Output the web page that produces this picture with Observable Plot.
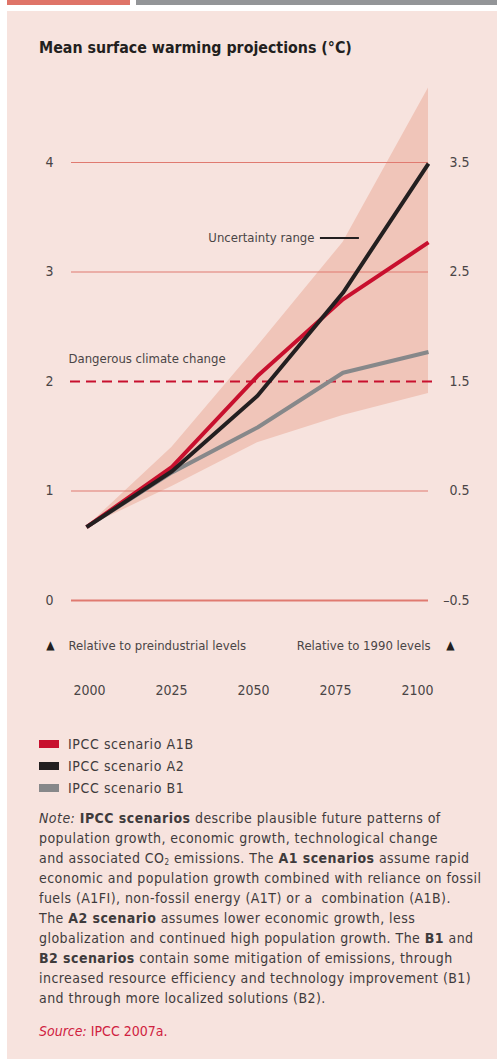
<!DOCTYPE html>
<html><head><meta charset="utf-8">
<script src="https://cdn.jsdelivr.net/npm/d3@7"></script>
<script src="https://cdn.jsdelivr.net/npm/@observablehq/plot@0.6"></script>
<style>
body{margin:0;background:#fff;width:497px;height:1059px;position:relative;overflow:hidden;font-family:"Liberation Sans Narrow","DejaVu Sans Condensed","Liberation Sans",sans-serif;color:#3f3b3c;}
.abs{position:absolute;}
#panel{left:7px;top:11px;width:490px;height:1048px;background:#f7e3de;}
#barR{left:7px;top:0;width:123px;height:5px;background:#df7468;}
#barG{left:136px;top:0;width:361px;height:5px;background:#939598;}
#title{left:39px;top:38px;font-weight:bold;font-size:15.8px;color:#231f20;white-space:nowrap;}
#legend{left:39px;top:733px;}
.lrow{height:22px;display:flex;align-items:center;font-size:14px;letter-spacing:0.6px;}
.sw{width:20px;height:8px;margin-right:9px;}
#note{left:39px;top:808px;font-size:14px;line-height:20px;letter-spacing:0.45px;white-space:nowrap;}
#source{left:39px;top:1021px;font-size:14px;line-height:20px;color:#d0213f;}
</style></head>
<body>
<div id="barR" class="abs"></div><div id="barG" class="abs"></div>
<div id="panel" class="abs"></div>
<div id="title" class="abs">Mean surface warming projections (°C)</div>
<div id="chart" class="abs" style="left:0;top:80px;"></div>
<div id="years" class="abs" style="left:0;top:675px;"></div>
<div id="legend" class="abs"></div>
<div id="note" class="abs"><i>Note:</i> <b>IPCC scenarios</b> describe plausible future patterns of<br>population growth, economic growth, technological change<br>and associated CO<sub style="font-size:8px;vertical-align:-2px;line-height:0">2</sub> emissions. The <b>A1 scenarios</b> assume rapid<br>economic and population growth combined with reliance on fossil<br>fuels (A1FI), non-fossil energy (A1T) or a&nbsp; combination (A1B).<br>The <b>A2 scenario</b> assumes lower economic growth, less<br>globalization and continued high population growth. The <b>B1</b> and<br><b>B2 scenarios</b> contain some mitigation of emissions, through<br>increased resource efficiency and technology improvement (B1)<br>and through more localized solutions (B2).</div>
<div id="source" class="abs"><i>Source:</i> IPCC 2007a.</div>
<script>
// ---- data ----
const years = [2000, 2025, 2050, 2075, 2100];
const a1b = [0.67, 1.22, 2.05, 2.75, 3.27];
const a2  = [0.67, 1.18, 1.87, 2.81, 3.99];
const b1  = [0.67, 1.17, 1.58, 2.08, 2.27];
const rangeLow  = [0.67, 1.04, 1.44, 1.69, 1.89];
const rangeHigh = [0.67, 1.40, 2.32, 3.27, 4.68];
const leftTicks = [0, 1, 2, 3, 4];
const rightTickLabels = ["\u20130.5", "0.5", "1.5", "2.5", "3.5"];
const scenarioNames = ["IPCC scenario A1B", "IPCC scenario A2", "IPCC scenario B1"];
const scenarioColors = ["#c8102e", "#231f20", "#87888a"];
const dangerLevel = 2;
const dangerLabel = "Dangerous climate change";
const uncertainty = {text: "Uncertainty range", x1: 2068.4, x2: 2079.8, y: 3.31};
const leftNote = "Relative to preindustrial levels";
const rightNote = "Relative to 1990 levels";

const series = [a1b, a2, b1];
const lineData = [];
[2, 0, 1].forEach(si => years.forEach((yr, i) => lineData.push({year: yr, v: series[si][i], s: scenarioNames[si]})));
const band = years.map((yr, i) => ({year: yr, lo: rangeLow[i], hi: rangeHigh[i]}));
const rightTicks = leftTicks.map((v, i) => ({v, label: rightTickLabels[i]}));

const FONT = '"Liberation Sans Narrow","DejaVu Sans Condensed","Liberation Sans",sans-serif';
const TXT = "#4a4546";
const GRID = "#e07a70";

const chart = Plot.plot({
  width: 497, height: 580,
  marginLeft: 71, marginRight: 69, marginTop: 0, marginBottom: 15,
  style: {background: "transparent", fontFamily: FONT, fontSize: "13px", color: TXT},
  x: {domain: [2000, 2100], range: [86, 428], axis: null},
  y: {domain: [0, 4], range: [520, 82], axis: null},
  color: {domain: scenarioNames, range: scenarioColors},
  marks: [
    Plot.areaY(band, {x: "year", y1: "lo", y2: "hi", fill: "#f0c5b9"}),
    Plot.ruleY(leftTicks.filter(d => d !== 0 && d !== dangerLevel), {stroke: GRID, strokeWidth: 1.2}),
    Plot.ruleY([0], {stroke: GRID, strokeWidth: 2}),
    Plot.ruleY([dangerLevel], {stroke: "#c8102e", strokeWidth: 2, strokeDasharray: "10,6", insetLeft: -1, insetRight: -8}),
    Plot.text(leftTicks, {y: d => d, text: d => String(d), frameAnchor: "left", textAnchor: "middle", dx: -22, fill: TXT, fontSize: 14}),
    Plot.text(rightTicks, {y: "v", text: "label", frameAnchor: "right", textAnchor: "end", dx: 41, fill: TXT, fontSize: 14}),
    Plot.line(lineData, {x: "year", y: "v", z: "s", stroke: "s", strokeWidth: 4, strokeLinecap: "butt", strokeLinejoin: "miter"}),
    Plot.text([dangerLabel], {y: dangerLevel, text: d => d, frameAnchor: "left", textAnchor: "start", dx: -3, dy: -23, fill: TXT}),
    Plot.text([uncertainty], {x: "x1", y: "y", text: "text", textAnchor: "end", dx: -6, fill: TXT}),
    Plot.ruleY([uncertainty], {x1: "x1", x2: "x2", y: "y", stroke: "#231f20", strokeWidth: 2}),
    Plot.text([leftNote], {text: d => d, frameAnchor: "bottom-left", textAnchor: "start", lineAnchor: "middle", dx: -3, fill: TXT}),
    Plot.text(["\u25B2"], {text: d => d, frameAnchor: "bottom-left", textAnchor: "middle", lineAnchor: "middle", dx: -21, fontSize: 12, fill: "#231f20"}),
    Plot.text([rightNote], {text: d => d, frameAnchor: "bottom-right", textAnchor: "end", lineAnchor: "middle", dx: 2, fill: TXT}),
    Plot.text(["\u25B2"], {text: d => d, frameAnchor: "bottom-right", textAnchor: "middle", lineAnchor: "middle", dx: 22, fontSize: 12, fill: "#231f20"})
  ]
});
document.getElementById("chart").append(chart);

const yearAxis = Plot.plot({
  width: 497, height: 30, margin: 0,
  style: {background: "transparent", fontFamily: FONT, fontSize: "14px", color: TXT},
  x: {domain: [2000, 2100], range: [89, 417], axis: null},
  marks: [Plot.text(years, {x: d => d, text: d => String(d), fill: TXT, frameAnchor: "middle"})]
});
document.getElementById("years").append(yearAxis);

const legend = document.getElementById("legend");
scenarioNames.forEach((n, i) => {
  const row = document.createElement("div");
  row.className = "lrow";
  row.innerHTML = `<div class="sw" style="background:${scenarioColors[i]}"></div><span>${n}</span>`;
  legend.append(row);
});
</script>
</body></html>
